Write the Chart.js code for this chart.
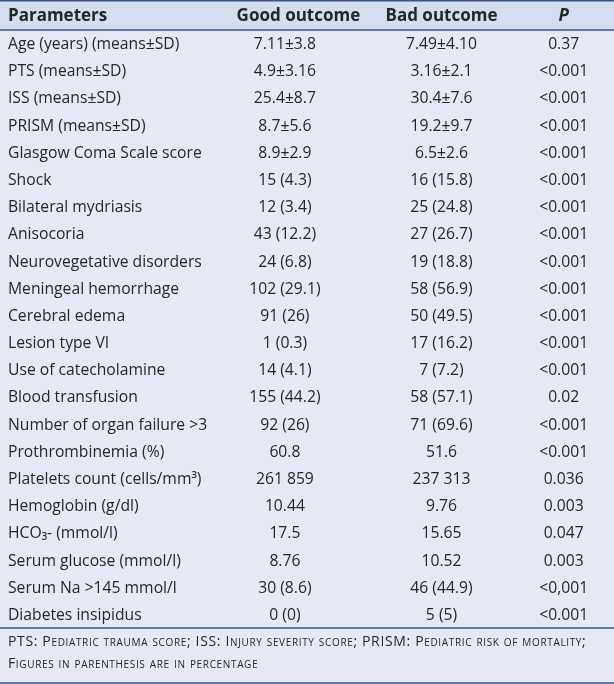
<!DOCTYPE html>
<html><head><meta charset="utf-8">
<script src="https://cdn.jsdelivr.net/npm/chart.js"></script>
<style>html,body{margin:0;padding:0;background:#e6e9f5;overflow:hidden}#wrap{width:614px;height:684px}</style>
</head><body><div id="wrap"><canvas id="c" width="614" height="684"></canvas></div>
<script>
const headers = ['Parameters', 'Good outcome', 'Bad outcome', 'P'];
const parameters = ['Age (years) (means±SD)', 'PTS (means±SD)', 'ISS (means±SD)', 'PRISM (means±SD)', 'Glasgow Coma Scale score', 'Shock', 'Bilateral mydriasis', 'Anisocoria', 'Neurovegetative disorders', 'Meningeal hemorrhage', 'Cerebral edema', 'Lesion type VI', 'Use of catecholamine', 'Blood transfusion', 'Number of organ failure >3', 'Prothrombinemia (%)', 'Platelets count (cells/mm³)', 'Hemoglobin (g/dl)', 'HCO₃- (mmol/l)', 'Serum glucose (mmol/l)', 'Serum Na >145 mmol/l', 'Diabetes insipidus'];
const goodOutcome = ['7.11±3.8', '4.9±3.16', '25.4±8.7', '8.7±5.6', '8.9±2.9', '15 (4.3)', '12 (3.4)', '43 (12.2)', '24 (6.8)', '102 (29.1)', '91 (26)', '1 (0.3)', '14 (4.1)', '155 (44.2)', '92 (26)', '60.8', '261 859', '10.44', '17.5', '8.76', '30 (8.6)', '0 (0)'];
const badOutcome = ['7.49±4.10', '3.16±2.1', '30.4±7.6', '19.2±9.7', '6.5±2.6', '16 (15.8)', '25 (24.8)', '27 (26.7)', '19 (18.8)', '58 (56.9)', '50 (49.5)', '17 (16.2)', '7 (7.2)', '58 (57.1)', '71 (69.6)', '51.6', '237 313', '9.76', '15.65', '10.52', '46 (44.9)', '5 (5)'];
const pValues = ['0.37', '<0.001', '<0.001', '<0.001', '<0.001', '<0.001', '<0.001', '<0.001', '<0.001', '<0.001', '<0.001', '<0.001', '<0.001', '0.02', '<0.001', '<0.001', '0.036', '0.003', '0.047', '0.003', '<0,001', '<0.001'];
const footnotes = ['PTS: Pediatric trauma score; ISS: Injury severity score; PRISM: Pediatric risk of mortality;', 'Figures in parenthesis are in percentage'];

// layout / style (not data)
const BODY_BG = '#e6e9f5';
const HEAD_BG = '#d5ddef';
const LINE = '#34558a';
const TEXT = '#262626';
const FONT = '"Open Sans"';
const colValueX = [0.013, 0.464, 0.719, 0.918];
const colHeadX = [0.013, 0.486, 0.719, 0.918];

const tablePlugin = {
  id: 'tablePlugin',
  beforeDraw(chart) {
    const {ctx, chartArea} = chart;
    ctx.save();
    ctx.fillStyle = BODY_BG;
    ctx.fillRect(0, 0, chart.width, chart.height);
    ctx.fillStyle = HEAD_BG;
    ctx.fillRect(0, 0, chart.width, chartArea.top);
    ctx.restore();
  },
  afterDraw(chart) {
    const {ctx, chartArea} = chart;
    const xs = chart.scales.x, ys = chart.scales.y;
    ctx.save();
    ctx.textBaseline = 'middle';
    // header
    ctx.fillStyle = TEXT;
    headers.forEach((h, c) => {
      ctx.font = (c === 3 ? 'italic bold ' : 'bold ') + '17px ' + FONT;
      ctx.textAlign = c === 0 ? 'left' : 'center';
      ctx.fillText(h, xs.getPixelForValue(colHeadX[c]), chartArea.top / 2 + 1);
    });
    // body
    ctx.font = '15.7px ' + FONT;
    const cols = [parameters, goodOutcome, badOutcome, pValues];
    parameters.forEach((p, i) => {
      const y = ys.getPixelForValue(i) + 1;
      cols.forEach((arr, c) => {
        ctx.textAlign = c === 0 ? 'left' : 'center';
        ctx.fillText(arr[i], xs.getPixelForValue(colValueX[c]), y);
      });
    });
    // footnotes
    ctx.font = 'small-caps 14px ' + FONT;
    try { ctx.fontVariantCaps = 'small-caps'; } catch (e) {}
    try { ctx.letterSpacing = '0.65px'; } catch (e) {}
    ctx.textAlign = 'left';
    footnotes.forEach((f, k) => {
      ctx.fillText(f, xs.getPixelForValue(colValueX[0]), chartArea.bottom + 14 + k * 22);
    });
    try { ctx.letterSpacing = '0px'; } catch (e) {}
    // rules
    ctx.strokeStyle = LINE;
    ctx.lineWidth = 1.5;
    [0.75, chartArea.top, chartArea.bottom, chart.height - 1].forEach(yy => {
      ctx.beginPath();
      ctx.moveTo(0, yy);
      ctx.lineTo(chart.width, yy);
      ctx.stroke();
    });
    ctx.restore();
  }
};

new Chart(document.getElementById('c'), {
  type: 'bar',
  data: {
    labels: parameters,
    datasets: [{
      data: parameters.map(() => [0, 1]),
      backgroundColor: BODY_BG,
      borderWidth: 0,
      barPercentage: 1,
      categoryPercentage: 1
    }]
  },
  options: {
    indexAxis: 'y',
    responsive: false,
    animation: false,
    layout: {padding: {top: 30, bottom: 56, left: 0, right: 0}},
    scales: {
      x: {type: 'linear', min: 0, max: 1, display: false},
      y: {display: false}
    },
    plugins: {legend: {display: false}, tooltip: {enabled: false}}
  },
  plugins: [tablePlugin]
});
</script>
</body></html>
